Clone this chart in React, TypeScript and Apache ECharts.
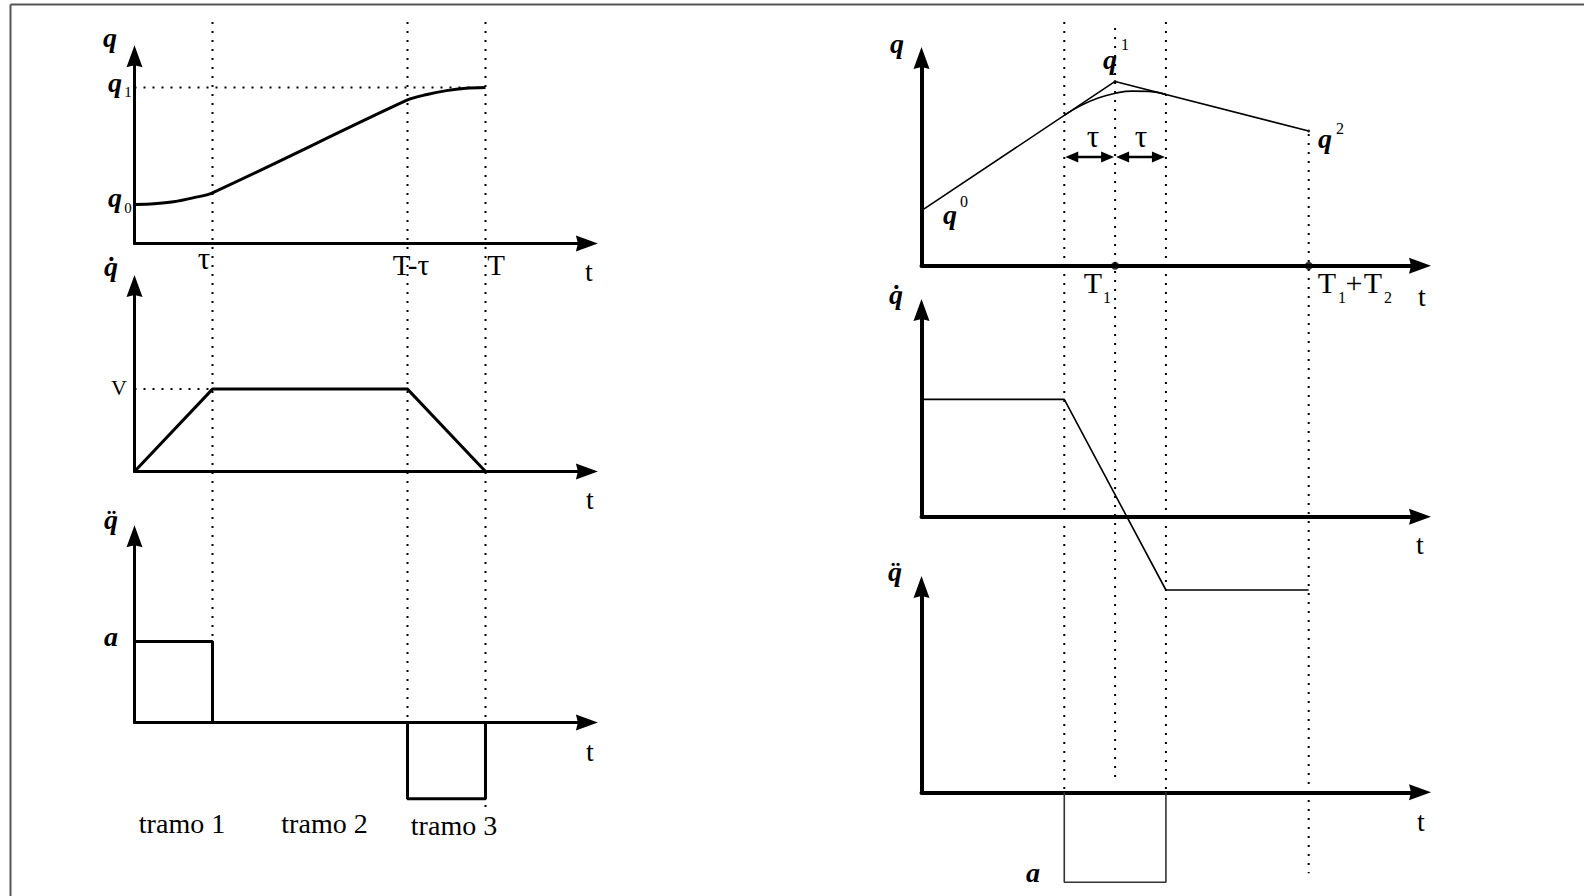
import React, { useEffect, useRef } from "react";
import * as echarts from "echarts";

// ---------- left: one segment q0 -> q1 with parabolic blends ----------
const tau = 1;
const tDecel = 3.5; // T - τ
const tEnd = 4.5; // T
const q0 = 1;
const q1 = 4;
const vCruise = 1;
const aPos = 1;
const aNeg = -0.94;

const posTime = [0, 0.25, 0.5, 0.75, 1, 3.5, 3.75, 4, 4.25, 4.5];
const posValue = [1.0, 1.02, 1.07, 1.17, 1.3, 3.68, 3.82, 3.92, 3.98, 4.0];
const velTime = [0, 1, 3.5, 4.5];
const velValue = [0, 1, 1, 0];
const accTime = [0, 0, 1, 1, 3.5, 3.5, 4.5, 4.5];
const accValue = [0, 1, 1, 0, 0, -0.94, -0.94, 0];
const segmentLabels = ["tramo 1", "tramo 2", "tramo 3"];

// ---------- right: two segments through a via point, blended around T1 ----------
const T1 = 4;
const T2 = 4;
const tauR = 1.05;
const viaTime = [0, 4, 8];
const viaValue = [2, 6.7, 4.9];
const blendTime = [2.95, 3.3, 3.65, 4.0, 4.35, 4.7, 5.05];
const blendValue = [5.47, 5.83, 6.1, 6.27, 6.35, 6.34, 6.23];
const velRTime = [0, 2.95, 5.05, 8];
const velRValue = [1.6, 1.6, -1, -1];
const accRTime = [2.95, 2.95, 5.05, 5.05];
const accRValue = [0, -1, -1, 0];
const aR = 1;

// ---------- layout ----------
const ARROW = "path://M8,0L16,22L8,20L0,22Z";
const SERIF = '"Liberation Serif", "Times New Roman", serif';
const QF = `italic bold 28px ${SERIF}`;
const RF = (s: number) => `${s}px ${SERIF}`;

type Panel = { x0: number; unit: number; xmax: number; axisY: number; yUnit: number; ymax: number; axisW: number };
const panels: Panel[] = [
  { x0: 134.5, unit: 78, xmax: 5.8, axisY: 243.5, yUnit: 39, ymax: 4.8, axisW: 3 },
  { x0: 134.5, unit: 78, xmax: 5.8, axisY: 471.5, yUnit: 82.4, ymax: 2.25, axisW: 3 },
  { x0: 134.5, unit: 78, xmax: 5.8, axisY: 722.5, yUnit: 81, ymax: 2.3, axisW: 3 },
  { x0: 921.5, unit: 48.4, xmax: 10.3, axisY: 265.7, yUnit: 27.5, ymax: 7.55, axisW: 4 },
  { x0: 921.5, unit: 48.4, xmax: 10.3, axisY: 516.7, yUnit: 73.3, ymax: 2.82, axisW: 4 },
  { x0: 921.5, unit: 48.4, xmax: 10.3, axisY: 792.3, yUnit: 90, ymax: 2.28, axisW: 4 },
];

const zip = (xs: number[], ys: number[]) => xs.map((x, i) => [x, ys[i]]);

const axisLine = (w: number) => ({
  show: true,
  onZero: true,
  symbol: ["none", ARROW],
  symbolSize: [16, 22],
  lineStyle: { color: "#000", width: w },
});

const hidden = {
  axisTick: { show: false },
  axisLabel: { show: false },
  splitLine: { show: false },
};

const line = (g: number, data: number[][], width: number, extra: any = {}) => ({
  type: "line",
  xAxisIndex: g,
  yAxisIndex: g,
  data,
  symbol: "none",
  showSymbol: false,
  clip: false,
  silent: true,
  lineStyle: { color: "#000", width, ...(extra.lineStyle || {}) },
  ...Object.fromEntries(Object.entries(extra).filter(([k]) => k !== "lineStyle")),
});

const txt = (text: string, x: number, y: number, font: string) => ({
  type: "text",
  x,
  y,
  silent: true,
  style: {
    text,
    font,
    fill: "#000",
    align: "center",
    verticalAlign: "middle",
    textAlign: "center",
    textVerticalAlign: "middle",
  },
});

// time-derivative symbols written with combining dots
const Q_DOT = "q\u0307";
const Q_DDOT = "q\u0308";

const baseOption: any = {
  animation: false,
  backgroundColor: "#fff",
  grid: panels.map((p) => ({
    left: p.x0,
    width: p.unit * p.xmax,
    top: p.axisY - p.yUnit * p.ymax,
    height: p.yUnit * p.ymax,
    containLabel: false,
    outerBoundsMode: "none",
  })),
  xAxis: panels.map((p, i) => ({
    type: "value",
    gridIndex: i,
    min: 0,
    max: p.xmax,
    axisLine: axisLine(p.axisW),
    ...hidden,
  })),
  yAxis: panels.map((p, i) => ({
    type: "value",
    gridIndex: i,
    min: 0,
    max: p.ymax,
    axisLine: axisLine(p.axisW),
    ...hidden,
  })),
  series: [
    // left position, velocity, acceleration
    line(0, [[0, q1], [tEnd, q1]], 2, { lineStyle: { type: [2, 7] } }),
    line(0, zip(posTime, posValue), 3, { smooth: 0.3 }),
    line(1, [[0, vCruise], [tau, vCruise]], 2, { lineStyle: { type: [2, 7] } }),
    line(1, zip(velTime, velValue), 3),
    line(2, zip(accTime, accValue), 3),
    // right position: straight path through the via point and blended path
    line(3, zip(viaTime, viaValue), 1.6),
    line(3, zip(blendTime, blendValue), 1.6, { smooth: true }),
    {
      type: "scatter",
      xAxisIndex: 3,
      yAxisIndex: 3,
      data: [[T1, 0], [T1 + T2, 0]],
      symbolSize: 8,
      itemStyle: { color: "#000" },
      silent: true,
      z: 5,
    },
    {
      type: "scatter",
      xAxisIndex: 3,
      yAxisIndex: 3,
      data: [[viaTime[1], viaValue[1]], [viaTime[2], viaValue[2]]],
      symbolSize: 3,
      itemStyle: { color: "#000" },
      silent: true,
    },
    // right velocity and acceleration
    line(4, zip(velRTime, velRValue), 1.6),
    line(5, zip(accRTime, accRValue), 1.6, { lineStyle: { color: "#333" } }),
  ],
};

export default function App() {
  const ref = useRef<HTMLDivElement>(null);

  useEffect(() => {
    const chart = echarts.init(ref.current!, null, { renderer: "svg" });
    chart.setOption(baseOption);

    const px = (g: number, x: number, y: number) =>
      chart.convertToPixel({ gridIndex: g } as any, [x, y]) as unknown as number[];

    const dotted = { stroke: "#000", lineWidth: 2, lineDash: [2, 7] };
    const guide = (x: number, y1: number, y2: number) => ({
      type: "line",
      silent: true,
      shape: { x1: x, y1, x2: x, y2 },
      style: dotted,
    });

    const GUIDE_TOP = 22;
    const guides = [
      guide(px(0, tau, 0)[0], GUIDE_TOP, px(2, tau, aPos)[1]),
      guide(px(0, tDecel, 0)[0], GUIDE_TOP, px(2, tDecel, 0)[1]),
      guide(px(0, tEnd, 0)[0], GUIDE_TOP, px(2, tEnd, aNeg)[1] + 11),
      guide(px(3, T1 - tauR, 0)[0], GUIDE_TOP, px(5, T1 - tauR, 0)[1]),
      guide(px(3, T1, 0)[0], GUIDE_TOP + 6, px(5, T1, 0)[1] - 10),
      guide(px(3, T1 + tauR, 0)[0], GUIDE_TOP, px(5, T1 + tauR, 0)[1]),
      guide(px(3, T1 + T2, 0)[0], px(3, T1 + T2, viaValue[2])[1] + 3, px(5, T1 + T2, -aR)[1] - 9),
    ];

    // τ double arrows around T1
    const arrowY = 157;
    const xa = px(3, T1 - tauR, 0)[0];
    const xb = px(3, T1, 0)[0];
    const xc = px(3, T1 + tauR, 0)[0];
    const head = (tip: number, dir: number) => ({
      type: "polygon",
      silent: true,
      shape: { points: [[tip, arrowY], [tip + dir * 13, arrowY - 5.5], [tip + dir * 13, arrowY + 5.5]] },
      style: { fill: "#000" },
    });
    const shaft = (x1: number, x2: number) => ({
      type: "line",
      silent: true,
      shape: { x1, y1: arrowY, x2, y2: arrowY },
      style: { stroke: "#000", lineWidth: 2.5 },
    });
    const tauArrows = [
      shaft(xa + 6, xb - 6),
      head(xa + 1, 1),
      head(xb - 1, -1),
      shaft(xb + 6, xc - 6),
      head(xb + 1, 1),
      head(xc - 1, -1),
    ];

    const frame = [
      { type: "line", silent: true, shape: { x1: 10.5, y1: 4.5, x2: 1584, y2: 4.5 }, style: { stroke: "#555", lineWidth: 2 } },
      { type: "line", silent: true, shape: { x1: 10.5, y1: 4.5, x2: 10.5, y2: 896 }, style: { stroke: "#555", lineWidth: 2 } },
    ];

    const labels = [
      // left, position
      txt("q", 110, 37, QF),
      txt("q", 115, 82, QF),
      txt("1", 128, 92, RF(15)),
      txt("q", 115, 197, QF),
      txt("0", 128, 208, RF(15)),
      txt("τ", 204, 258, RF(31)),
      txt("T-τ", 411, 265, RF(29)),
      txt("T", 496, 265, RF(29)),
      txt("t", 589, 271, RF(28)),
      // left, velocity
      txt(Q_DOT, 111, 266, QF),
      txt("V", 119, 387, RF(22)),
      txt("t", 590, 499, RF(28)),
      // left, acceleration
      txt(Q_DDOT, 111, 519, QF),
      txt("a", 111, 636, QF),
      txt("t", 590, 751, RF(28)),
      txt(segmentLabels[0], 182, 823.5, RF(28)),
      txt(segmentLabels[1], 324.5, 823.5, RF(28)),
      txt(segmentLabels[2], 454, 825.5, RF(28)),
      // right, position
      txt("q", 897, 43, QF),
      txt("q", 950, 214, QF),
      txt("0", 964, 201, RF(16)),
      txt("q", 1110, 59, QF),
      txt("1", 1125, 44, RF(16)),
      txt("q", 1325, 138, QF),
      txt("2", 1340, 128, RF(16)),
      txt("τ", 1093, 136, RF(31)),
      txt("τ", 1141, 136, RF(31)),
      txt("T", 1093, 282, RF(30)),
      txt("1", 1107, 297, RF(16)),
      txt("T", 1327, 282, RF(30)),
      txt("1", 1342, 297, RF(16)),
      txt("+", 1354, 282, RF(30)),
      txt("T", 1373, 282, RF(30)),
      txt("2", 1388, 297, RF(16)),
      txt("t", 1422, 296, RF(28)),
      // right, velocity
      txt(Q_DOT, 896, 294, QF),
      txt("t", 1420, 544, RF(28)),
      // right, acceleration
      txt(Q_DDOT, 895, 571, QF),
      txt("t", 1421, 821, RF(28)),
      txt("a", 1033, 872, QF),
    ];

    chart.setOption({ graphic: [...frame, ...guides, ...tauArrows, ...labels] });

    return () => chart.dispose();
  }, []);

  return (
    <div
      ref={ref}
      style={{ position: "fixed", left: 0, top: 0, width: 1584, height: 896, background: "#fff" }}
    />
  );
}
